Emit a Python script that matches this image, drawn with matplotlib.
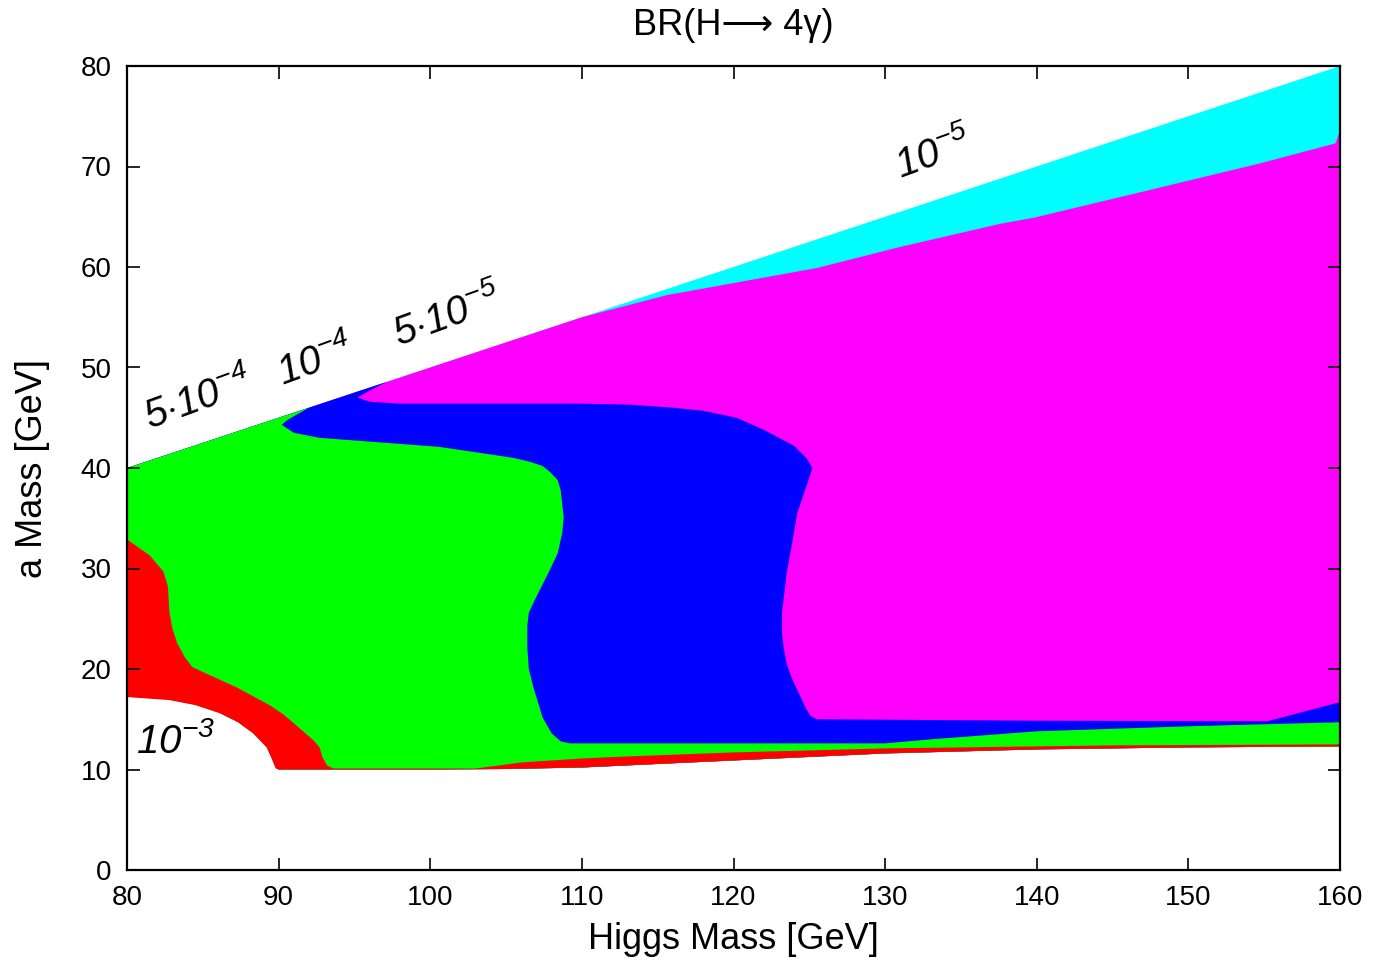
import numpy as np
import matplotlib
matplotlib.use('Agg')
import matplotlib.pyplot as plt

plt.rcParams['font.family'] = ['Liberation Sans', 'DejaVu Sans']
plt.rcParams['mathtext.fontset'] = 'custom'
plt.rcParams['mathtext.rm'] = 'Liberation Sans:italic'
plt.rcParams['mathtext.it'] = 'Liberation Sans:italic'

# kinematic limit m_a = m_H / 2
diag_x = [80, 160]

# lower edge of the computed region (right to left), incl. the BR > 1e-3 hole
low_x = [160, 150, 140, 130, 120, 110, 105, 100, 95, 90.0, 89.8, 89.5, 89.2, 88.3, 87.3, 86.1, 84.5, 82.8, 80]
low_y = [12.3, 12.2, 12.0, 11.6, 10.9, 10.2, 10.05, 10.0, 10.0, 10.0, 10.1, 11.2, 12.2, 13.6, 14.7, 15.6, 16.4, 16.9, 17.2]

# 1e-5 contour (magenta / cyan), left to right
c5_x = [110.0, 115.6, 120, 125.5, 131.0, 137.6, 139.8, 147, 154.7, 159.7, 160]
c5_y = [55.0, 57.2, 58.4, 59.9, 62.0, 64.3, 64.9, 67.5, 70.3, 72.3, 73.6]

# 5e-5 contour (blue / magenta), from the kinematic edge downwards
c55_x = [97.1, 96.0, 95.2, 96.0, 98.0, 104, 110, 113.2, 116, 118, 120.2, 122.0, 124.0, 124.8, 125.2,
         124.9, 124.2, 123.9, 123.5, 123.2, 123.2, 123.3, 123.5, 123.9, 124.8, 125.1, 125.5, 140, 155.2, 160]
c55_y = [48.55, 47.7, 47.0, 46.6, 46.4, 46.4, 46.4, 46.3, 46.0, 45.7, 45.0, 43.8, 42.2, 41.0, 40.0,
         38.6, 35.5, 32.8, 29.5, 25.6, 23.5, 22.2, 20.5, 18.9, 16.0, 15.3, 15.0, 14.85, 14.8, 16.7]

# 1e-4 contour (green / blue)
c4_x = [92.0, 90.6, 90.2, 91.0, 92.7, 97.1, 100.6, 103.3, 105.5, 106.6, 107.4, 107.9, 108.4, 108.6, 108.8,
        108.7, 108.4, 107.9, 107.4, 106.9, 106.5, 106.4, 106.4, 106.5, 106.8, 107.4, 108.0, 108.6, 109.2,
        120, 130, 133, 140, 150, 160]
c4_y = [46.0, 44.8, 44.3, 43.5, 43.0, 42.5, 42.1, 41.5, 41.0, 40.6, 40.2, 39.6, 38.8, 37.8, 35.1,
        33.5, 31.5, 29.9, 28.4, 26.9, 25.6, 24.3, 22.2, 20.0, 18.2, 15.2, 13.6, 12.8, 12.6,
        12.6, 12.6, 13.0, 13.8, 14.3, 14.7]

# 5e-4 contour (red / green), from the left edge
c54_x = [80, 81.5, 82.4, 82.7, 82.8, 83.0, 83.3, 83.8, 84.3, 85.0, 87.2, 89.4, 90.3, 91.0, 92.3, 92.7, 92.9, 93.2, 93.6,
         103, 106, 110, 113, 120, 130, 145, 160]
c54_y = [32.9, 31.3, 29.7, 28.2, 25.6, 24.0, 22.6, 21.2, 20.2, 19.7, 18.2, 16.4, 15.5, 14.6, 12.9, 12.2, 11.2, 10.4, 10.1,
         10.1, 10.7, 11.1, 11.3, 11.7, 12.1, 12.4, 12.5]

labels = [r'$5{\cdot}10^{-4}$', r'$10^{-4}$', r'$5{\cdot}10^{-5}$', r'$10^{-5}$', r'$10^{-3}$']
lab_x = [84.7, 92.4, 101.1, 133.2, 83.2]
lab_y = [46.8, 50.7, 55.1, 71.3, 12.8]
lab_rot = [20, 20, 20, 20, 0]


def edge(x):
    return list(np.array(x, dtype=float) / 2.0)


def region(top_x, top_y):
    # polygon: kinematic edge from x=80, then the given contour, then back along the lower edge
    xs = [80.0] + list(top_x) + list(low_x)
    ys = [40.0] + list(top_y) + list(low_y)
    return xs, ys


fig = plt.figure(figsize=(13.73, 9.6), dpi=100)
ax = fig.add_axes([0.0925, 0.09375, 0.8835, 0.8375])

# cyan: whole region
xs, ys = region([160], edge([160]))
ax.fill(xs, ys, color='#00ffff', lw=0)
# magenta: BR > 1e-5
xs, ys = region([110.0] + c5_x, edge([110.0]) + c5_y)
ax.fill(xs, ys, color='#ff00ff', lw=0)
# blue: BR > 5e-5
xs, ys = region(c55_x, c55_y)
ax.fill(xs, ys, color='#0000ff', lw=0)
# green: BR > 1e-4
xs, ys = region(c4_x, c4_y)
ax.fill(xs, ys, color='#00ff00', lw=0)
# red: BR > 5e-4
ax.fill(c54_x + low_x, c54_y + low_y, color='#ff0000', lw=0)
# white hole: BR > 1e-3
ax.fill(low_x[9:] + [80], low_y[9:] + [10.0], color='white', lw=0)

for t, x, y, r in zip(labels, lab_x, lab_y, lab_rot):
    ax.text(x, y, t, fontsize=29, rotation=r, ha='center', va='center')

ax.set_xlim(80, 160)
ax.set_ylim(0, 80)
ax.set_xticks(np.arange(80, 161, 10))
ax.set_yticks(np.arange(0, 81, 10))
ax.tick_params(direction='in', length=9, width=1.2, labelsize=20, pad=11,
               top=True, right=True)
for s in ax.spines.values():
    s.set_linewidth(1.6)

ax.set_xlabel('Higgs Mass [GeV]', fontsize=26, labelpad=8)
ax.set_ylabel('a Mass [GeV]', fontsize=26, labelpad=22)
ax.set_title('BR(H\u27f6 4\u03b3)', fontsize=26, pad=22)

fig.savefig('out.png', dpi=100)
